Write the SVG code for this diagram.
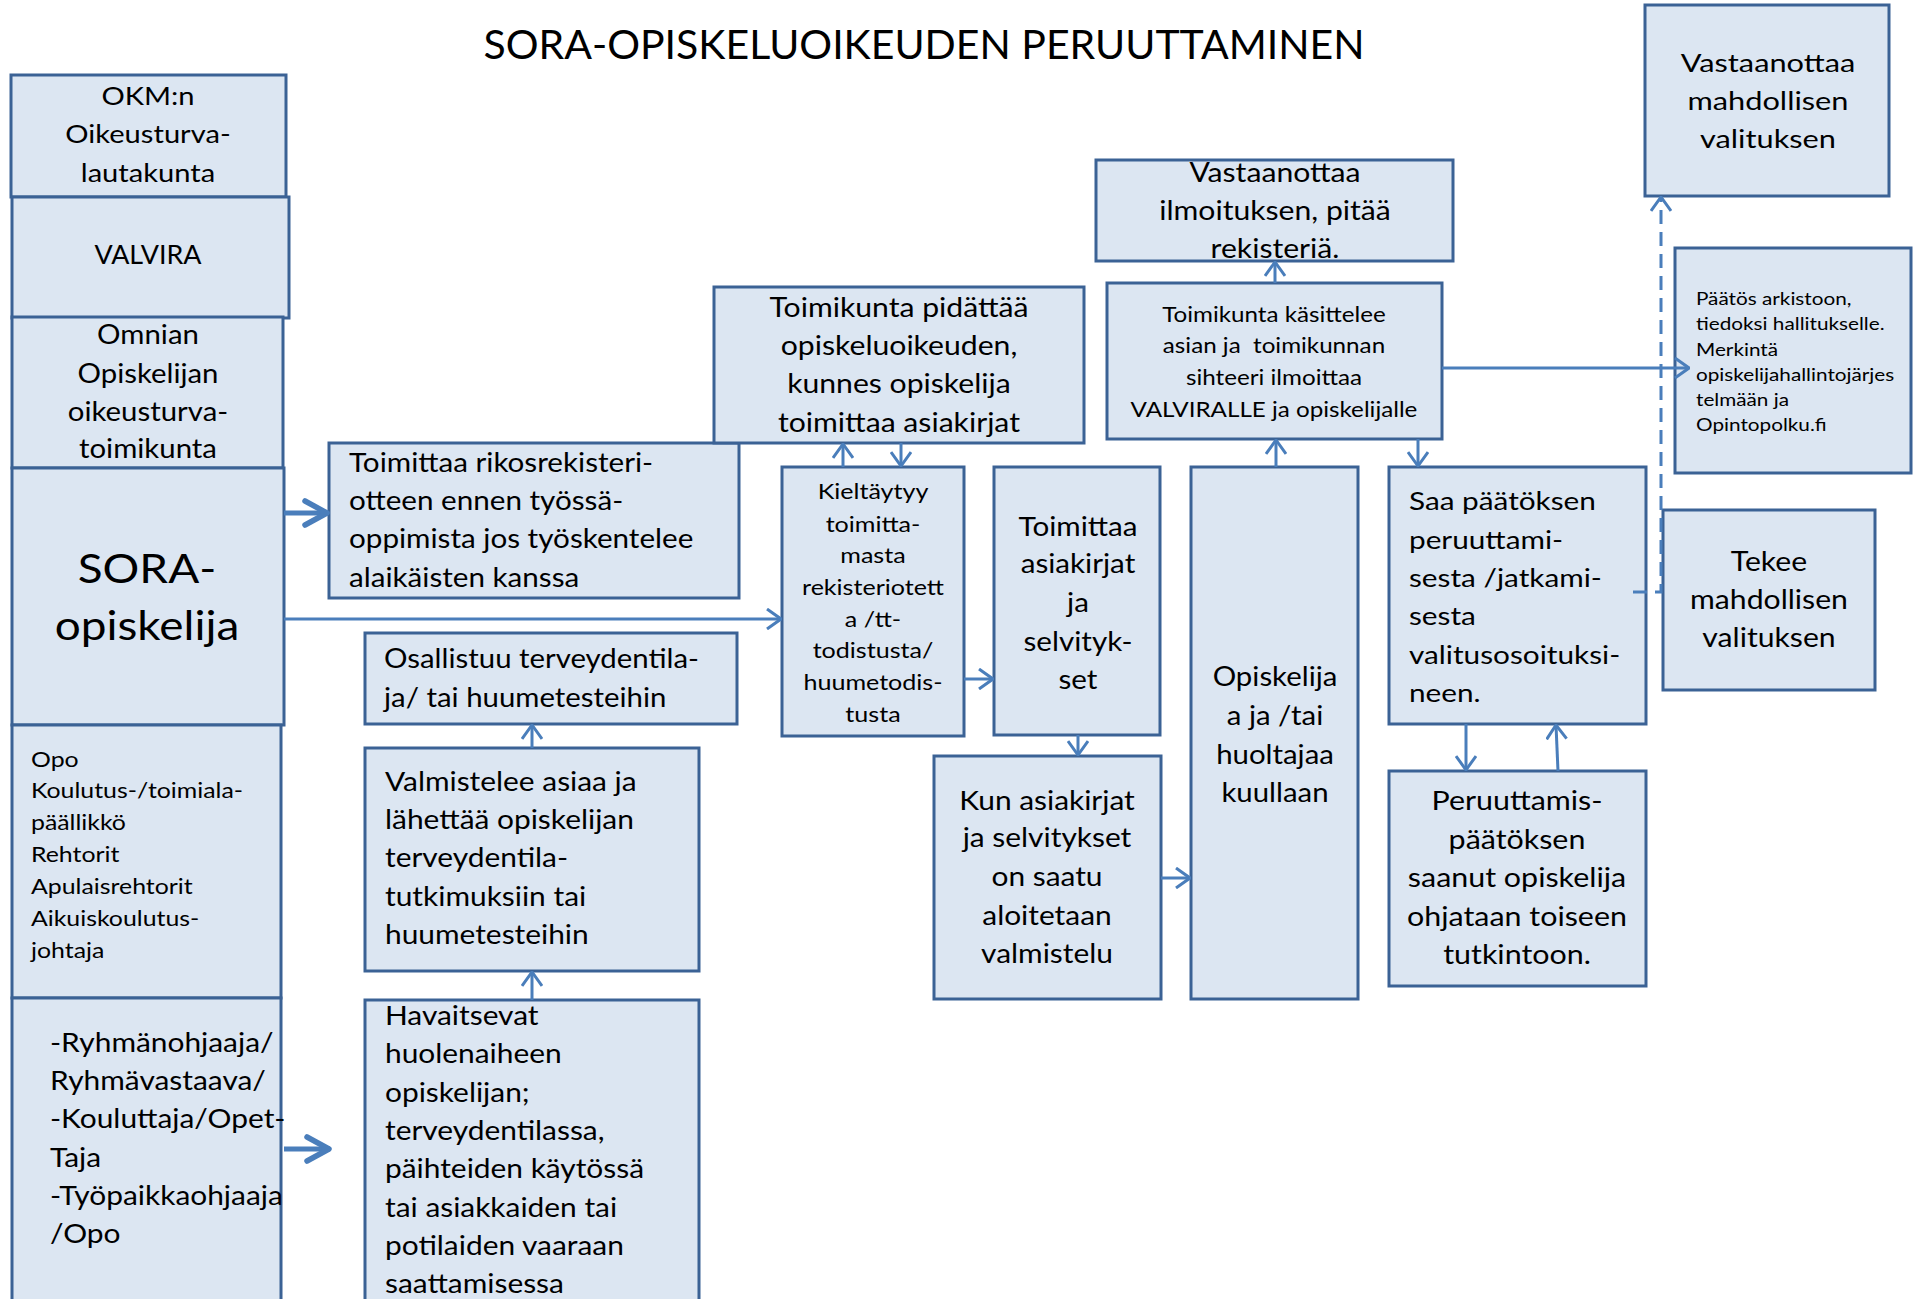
<svg xmlns="http://www.w3.org/2000/svg" width="1914" height="1299" viewBox="0 0 1914 1299">
<defs>
<style>
.box{fill:#dce6f2;stroke:#3b6295;stroke-width:3}
.t{font-family:Lato,"Open Sans","Liberation Sans",sans-serif;fill:#000;font-size:26px}
.c{text-anchor:middle}
.s25{font-size:25px}
.s22{font-size:22px}
.s17{font-size:17px}
.con{stroke:#4a7ebb;stroke-width:3;fill:none}
.thick{stroke-width:5}
.dash{stroke-dasharray:14 8}
</style>
<marker id="ah" viewBox="0 0 16 22" refX="15" refY="11" markerWidth="16" markerHeight="22" markerUnits="userSpaceOnUse" orient="auto">
<path d="M1,1 L15,11 L1,21" fill="none" stroke="#4a7ebb" stroke-width="3"/>
</marker>
<marker id="ahb" viewBox="0 0 28 30" refX="26" refY="15" markerWidth="28" markerHeight="30" markerUnits="userSpaceOnUse" orient="auto">
<path d="M3,3 L25,15 L3,27" fill="none" stroke="#4a7ebb" stroke-width="5.5" stroke-linecap="round" stroke-linejoin="round"/>
</marker>
</defs>
<rect width="1914" height="1299" fill="#fff"/>
<text class="t c" x="924" y="59" style="font-size:41px">SORA-OPISKELUOIKEUDEN PERUUTTAMINEN</text>

<g id="okm"><rect class="box" x="11" y="75" width="275" height="122"/>
<g transform="matrix(1.12,0,0,1,-17.76,0)"><text class="t c" x="148" y="105">OKM:n</text><text class="t c" x="148" y="143">Oikeusturva-</text><text class="t c" x="148" y="182">lautakunta</text></g></g>
<g id="valvira"><rect class="box" x="12" y="197" width="277" height="121"/>
<g transform="matrix(1.035,0,0,1,-5.18,0)"><text class="t c" x="148" y="264">VALVIRA</text></g></g>
<g id="omnian"><rect class="box" x="12" y="317" width="271" height="151"/>
<g transform="matrix(1.13,0,0,1,-19.24,0)"><text class="t c" x="148" y="344">Omnian</text><text class="t c" x="148" y="383">Opiskelijan</text><text class="t c" x="148" y="421">oikeusturva-</text><text class="t c" x="148" y="458">toimikunta</text></g></g>
<g id="sora"><rect class="box" x="12" y="468" width="272" height="257"/>
<g transform="matrix(1.12,0,0,1,-17.64,0)"><text class="t c" x="147" y="583" style="font-size:41px">SORA-</text><text class="t c" x="147" y="640" style="font-size:41px">opiskelija</text></g></g>
<g id="opo"><rect class="box" x="12" y="725" width="269" height="273"/>
<g transform="matrix(1.13,0,0,1,-4.03,0)"><text class="t s22" x="31" y="767">Opo</text><text class="t s22" x="31" y="798">Koulutus-/toimiala-</text><text class="t s22" x="31" y="830">päällikkö</text><text class="t s22" x="31" y="862">Rehtorit</text><text class="t s22" x="31" y="894">Apulaisrehtorit</text><text class="t s22" x="31" y="926">Aikuiskoulutus-</text><text class="t s22" x="31" y="958">johtaja</text></g></g>
<g id="ryhma"><rect class="box" x="12" y="998" width="269" height="320"/>
<g transform="matrix(1.15,0,0,1,-7.5,0)"><text class="t" x="50" y="1052">-Ryhmänohjaaja/</text><text class="t" x="50" y="1090">Ryhmävastaava/</text><text class="t" x="50" y="1128">-Kouluttaja/Opet-</text><text class="t" x="50" y="1167">Taja</text><text class="t" x="50" y="1205">-Työpaikkaohjaaja</text><text class="t" x="50" y="1243">/Opo</text></g></g>
<g id="rikosrekisteri"><rect class="box" x="329" y="443" width="410" height="155"/>
<g transform="matrix(1.14,0,0,1,-48.86,0)"><text class="t" x="349" y="472">Toimittaa rikosrekisteri-</text><text class="t" x="349" y="510">otteen ennen työssä-</text><text class="t" x="349" y="548">oppimista jos työskentelee</text><text class="t" x="349" y="587">alaikäisten kanssa</text></g></g>
<g id="osallistuu"><rect class="box" x="365" y="633" width="372" height="91"/>
<g transform="matrix(1.13,0,0,1,-49.92,0)"><text class="t" x="384" y="668">Osallistuu terveydentila-</text><text class="t" x="384" y="707">ja/ tai huumetesteihin</text></g></g>
<g id="valmistelee"><rect class="box" x="365" y="748" width="334" height="223"/>
<g transform="matrix(1.15,0,0,1,-57.75,0)"><text class="t" x="385" y="791">Valmistelee asiaa ja</text><text class="t" x="385" y="829">lähettää opiskelijan</text><text class="t" x="385" y="867">terveydentila-</text><text class="t" x="385" y="906">tutkimuksiin tai</text><text class="t" x="385" y="944">huumetesteihin</text></g></g>
<g id="havaitsevat"><rect class="box" x="365" y="1000" width="334" height="320"/>
<g transform="matrix(1.15,0,0,1,-57.75,0)"><text class="t" x="385" y="1025">Havaitsevat</text><text class="t" x="385" y="1063">huolenaiheen</text><text class="t" x="385" y="1102">opiskelijan;</text><text class="t" x="385" y="1140">terveydentilassa,</text><text class="t" x="385" y="1178">päihteiden käytössä</text><text class="t" x="385" y="1217">tai asiakkaiden tai</text><text class="t" x="385" y="1255">potilaiden vaaraan</text><text class="t" x="385" y="1293">saattamisessa</text></g></g>
<g id="pidattaa"><rect class="box" x="714" y="287" width="370" height="156"/>
<g transform="matrix(1.16,0,0,1,-143.84,0)"><text class="t c" x="899" y="317">Toimikunta pidättää</text><text class="t c" x="899" y="355">opiskeluoikeuden,</text><text class="t c" x="899" y="393">kunnes opiskelija</text><text class="t c" x="899" y="432">toimittaa asiakirjat</text></g></g>
<g id="kieltaytyy"><rect class="box" x="782" y="467" width="182" height="269"/>
<g transform="matrix(1.14,0,0,1,-122.22,0)"><text class="t c s22" x="873" y="499">Kieltäytyy</text><text class="t c s22" x="873" y="532">toimitta-</text><text class="t c s22" x="873" y="563">masta</text><text class="t c s22" x="873" y="595">rekisteriotett</text><text class="t c s22" x="873" y="627">a /tt-</text><text class="t c s22" x="873" y="658">todistusta/</text><text class="t c s22" x="873" y="690">huumetodis-</text><text class="t c s22" x="873" y="722">tusta</text></g></g>
<g id="toimittaa-asiakirjat"><rect class="box" x="994" y="467" width="166" height="268"/>
<g transform="matrix(1.14,0,0,1,-150.92,0)"><text class="t c" x="1078" y="536">Toimittaa</text><text class="t c" x="1078" y="573">asiakirjat</text><text class="t c" x="1078" y="612">ja</text><text class="t c" x="1078" y="651">selvityk-</text><text class="t c" x="1078" y="689">set</text></g></g>
<g id="kun-asiakirjat"><rect class="box" x="934" y="756" width="227" height="243"/>
<g transform="matrix(1.15,0,0,1,-157.05,0)"><text class="t c" x="1047" y="810">Kun asiakirjat</text><text class="t c" x="1047" y="847">ja selvitykset</text><text class="t c" x="1047" y="886">on saatu</text><text class="t c" x="1047" y="925">aloitetaan</text><text class="t c" x="1047" y="963">valmistelu</text></g></g>
<g id="kuullaan"><rect class="box" x="1191" y="467" width="167" height="532"/>
<g transform="matrix(1.13,0,0,1,-165.75,0)"><text class="t c" x="1275" y="686">Opiskelija</text><text class="t c" x="1275" y="725">a ja /tai</text><text class="t c" x="1275" y="764">huoltajaa</text><text class="t c" x="1275" y="802">kuullaan</text></g></g>
<g id="kasittelee"><rect class="box" x="1107" y="283" width="335" height="156"/>
<g transform="matrix(1.1,0,0,1,-127.4,0)"><text class="t c s22" x="1274" y="322">Toimikunta käsittelee</text><text class="t c s22" x="1274" y="353" xml:space="preserve">asian ja  toimikunnan</text><text class="t c s22" x="1274" y="385">sihteeri ilmoittaa</text><text class="t c s22" x="1274" y="417">VALVIRALLE ja opiskelijalle</text></g></g>
<g id="vastaanottaa-ilmoituksen"><rect class="box" x="1096" y="160" width="357" height="101"/>
<g transform="matrix(1.16,0,0,1,-204,0)"><text class="t c" x="1275" y="182">Vastaanottaa</text><text class="t c" x="1275" y="220">ilmoituksen, pitää</text><text class="t c" x="1275" y="258">rekisteriä.</text></g></g>
<g id="saa-paatoksen"><rect class="box" x="1389" y="467" width="257" height="257"/>
<g transform="matrix(1.19,0,0,1,-267.71,0)"><text class="t s25" x="1409" y="510">Saa päätöksen</text><text class="t s25" x="1409" y="549">peruuttami-</text><text class="t s25" x="1409" y="587">sesta /jatkami-</text><text class="t s25" x="1409" y="625">sesta</text><text class="t s25" x="1409" y="664">valitusosoituksi-</text><text class="t s25" x="1409" y="702">neen.</text></g></g>
<g id="peruuttamis"><rect class="box" x="1389" y="771" width="257" height="215"/>
<g transform="matrix(1.17,0,0,1,-257.89,0)"><text class="t c" x="1517" y="810">Peruuttamis-</text><text class="t c" x="1517" y="849">päätöksen</text><text class="t c" x="1517" y="887">saanut opiskelija</text><text class="t c" x="1517" y="926">ohjataan toiseen</text><text class="t c" x="1517" y="964">tutkintoon.</text></g></g>
<g id="vastaanottaa-valituksen"><rect class="box" x="1645" y="5" width="244" height="191"/>
<g transform="matrix(1.23,0,0,1,-406.64,0)"><text class="t c s25" x="1768" y="72">Vastaanottaa</text><text class="t c s25" x="1768" y="110">mahdollisen</text><text class="t c s25" x="1768" y="148">valituksen</text></g></g>
<g id="paatos-arkistoon"><rect class="box" x="1675" y="248" width="236" height="225"/>
<g transform="matrix(1.22,0,0,1,-373.12,0)"><text class="t s17" x="1696" y="305">Päätös arkistoon,</text><text class="t s17" x="1696" y="330">tiedoksi hallitukselle.</text><text class="t s17" x="1696" y="356">Merkintä</text><text class="t s17" x="1696" y="381">opiskelijahallintojärjes</text><text class="t s17" x="1696" y="406">telmään ja</text><text class="t s17" x="1696" y="431">Opintopolku.fi</text></g></g>
<g id="tekee"><rect class="box" x="1663" y="510" width="212" height="180"/>
<g transform="matrix(1.16,0,0,1,-283.04,0)"><text class="t c" x="1769" y="571">Tekee</text><text class="t c" x="1769" y="609">mahdollisen</text><text class="t c" x="1769" y="647">valituksen</text></g></g>

<g id="connectors">
<path class="con thick" d="M284,513 L328,513" marker-end="url(#ahb)"/>
<path class="con" d="M284,619 L781,619" marker-end="url(#ah)"/>
<path class="con thick" d="M284,1149 L330,1149" marker-end="url(#ahb)"/>
<path class="con" d="M532,1000 L532,972" marker-end="url(#ah)"/>
<path class="con" d="M532,748 L532,725" marker-end="url(#ah)"/>
<path class="con" d="M843,467 L843,444" marker-end="url(#ah)"/>
<path class="con" d="M901,443 L901,466" marker-end="url(#ah)"/>
<path class="con" d="M964,679 L993,679" marker-end="url(#ah)"/>
<path class="con" d="M1078,735 L1078,755" marker-end="url(#ah)"/>
<path class="con" d="M1161,878 L1190,878" marker-end="url(#ah)"/>
<path class="con" d="M1276,467 L1276,440" marker-end="url(#ah)"/>
<path class="con" d="M1275,283 L1275,262" marker-end="url(#ah)"/>
<path class="con" d="M1418,439 L1418,466" marker-end="url(#ah)"/>
<path class="con" d="M1442,368 L1689,368" marker-end="url(#ah)"/>
<path class="con" d="M1466,724 L1466,770" marker-end="url(#ah)"/>
<path class="con" d="M1558,771 L1556,725" marker-end="url(#ah)"/>
<path class="con dash" d="M1633,592 L1661,592 L1661,197" marker-end="url(#ah)"/>
</g>
</svg>
